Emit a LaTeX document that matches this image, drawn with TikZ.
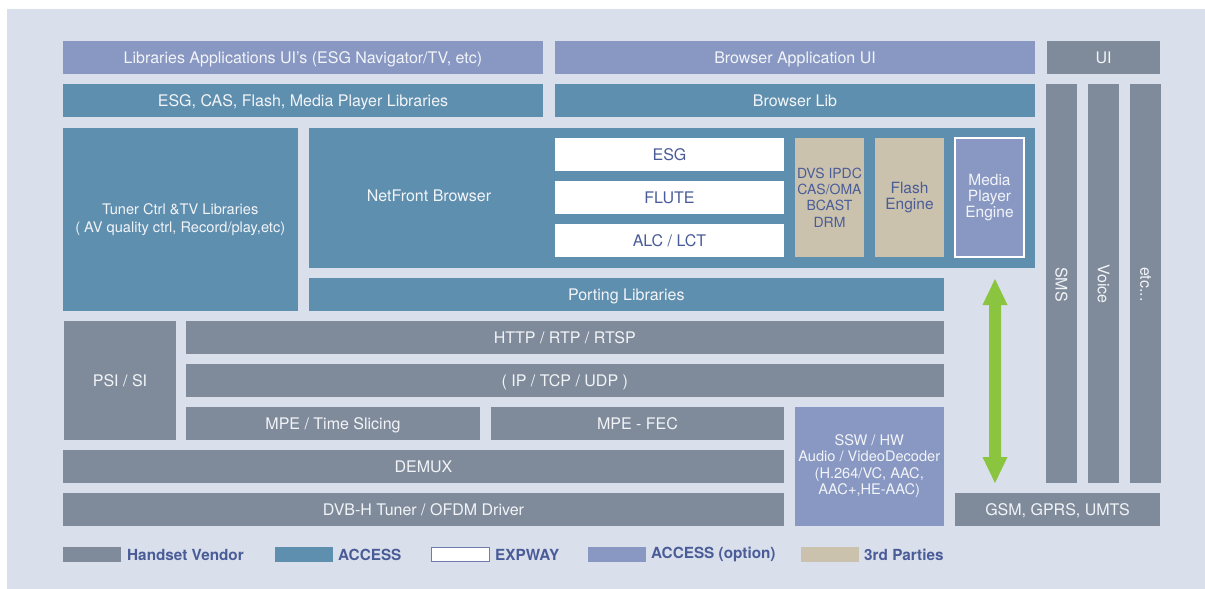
\documentclass[tikz,border=0pt]{standalone}
\usepackage{fontspec}
\setmainfont{TeX Gyre Heros}
\definecolor{bgc}{HTML}{D9DFEB}
\definecolor{hv}{HTML}{7F8B9A}
\definecolor{acc}{HTML}{5F8FAE}
\definecolor{opt}{HTML}{8898C3}
\definecolor{third}{HTML}{CBC2AE}
\definecolor{grn}{HTML}{8BC53F}
\definecolor{dtext}{HTML}{4A5C98}
\definecolor{ltext}{HTML}{F2F4F8}
\newcommand\mybox[7]{\node[#2, anchor=north west, minimum width={#5pt-#3pt}, minimum height={#6pt-#4pt}] (#1) at (#3,#4) {#7};}
\begin{document}
\begin{tikzpicture}[x=1pt,y=-1pt,
  base/.style={inner sep=0pt, outer sep=0pt, align=center, font=\fontsize{16}{16.5}\selectfont},
  sl/.style={text height=11.5pt, text depth=0pt},
  ml/.style={font=\fontsize{15.5}{16.3}\selectfont},
  hvbox/.style={base, fill=hv, text=ltext},
  accbox/.style={base, fill=acc, text=ltext},
  optbox/.style={base, fill=opt, text=ltext},
  expbox/.style={base, fill=white, text=dtext},
  thbox/.style={base, fill=third, text=dtext},
  vlab/.style={inner sep=0pt, rotate=-90, anchor=west, text=ltext, font=\fontsize{16}{16}\selectfont},
  legtext/.style={inner sep=0pt, anchor=west, text=dtext, font=\bfseries\fontsize{15.3}{16}\selectfont},
  swatch/.style={inner sep=0pt, outer sep=0pt, anchor=north west, minimum width=58pt, minimum height=14.5pt}]
\useasboundingbox (0,0) rectangle (1205,589);
\fill[bgc] (7,9) rectangle (1205,589);
% row 1
\mybox{libui}{optbox,sl}{63}{41}{543}{73.5}{Libraries Applications UI's (ESG Navigator/TV, etc)}
\mybox{brui}{optbox,sl}{555}{41}{1035}{73.5}{Browser Application UI}
\mybox{ui}{hvbox,sl}{1047}{41}{1160}{73.5}{UI}
% row 2
\mybox{esglib}{accbox,sl}{63}{84}{543}{116.5}{ESG, CAS, Flash, Media Player Libraries}
\mybox{brlib}{accbox,sl}{555}{84}{1035}{116.5}{Browser Lib}
% right columns
\mybox{sms}{hvbox}{1046}{84}{1077}{483}{}
\mybox{voice}{hvbox}{1088}{84}{1119}{483}{}
\mybox{etc}{hvbox}{1130}{84}{1161}{483}{}
\node[vlab] (smst) at (1061.5,267) {SMS};
\node[vlab] (voicet) at (1103.5,264.5) {Voice};
\node[vlab] (etct) at (1145.5,267) {etc...};
% row 3
\mybox{tuner}{accbox,font=\fontsize{14.6}{18}\selectfont}{63}{128}{297.5}{310.5}{Tuner Ctrl \&TV Libraries\\( AV quality ctrl, Record/play,etc)}
\mybox{netfront}{accbox}{309}{128}{1035}{267.5}{}
\node[base, sl, text=ltext] (nft) at (429,196) {NetFront Browser};
\mybox{esg}{expbox,sl}{555}{138}{784}{171}{ESG}
\mybox{flute}{expbox,sl}{555}{181}{784}{214}{FLUTE}
\mybox{alc}{expbox,sl}{555}{224}{784}{257}{ALC / LCT}
\mybox{dvs}{thbox,font=\fontsize{14}{16.3}\selectfont}{795}{138}{864}{257}{DVS IPDC\\CAS/OMA\\BCAST\\DRM}
\mybox{flash}{thbox,ml}{875}{138}{944}{257}{Flash\\Engine}
\mybox{media}{optbox,ml}{955}{138}{1024}{257}{Media\\Player\\Engine}
\draw[white, line width=1.2pt] (media.north west) rectangle (media.south east);
% porting
\mybox{porting}{accbox,sl}{309}{278}{943.5}{310.5}{Porting Libraries}
% network stack
\mybox{psi}{hvbox,sl}{64}{321}{176}{439.5}{PSI / SI}
\mybox{http}{hvbox,sl}{186}{321}{943.5}{353.5}{HTTP / RTP / RTSP}
\mybox{ip}{hvbox,sl}{186}{364}{943.5}{396.5}{( IP / TCP / UDP )}
\mybox{mpets}{hvbox,sl}{186}{407}{480}{439.5}{MPE / Time Slicing}
\mybox{mpefec}{hvbox,sl}{491}{407}{784}{439.5}{MPE - FEC}
\mybox{demux}{hvbox,sl}{63}{450}{784}{482.5}{DEMUX}
\mybox{dvbh}{hvbox,sl}{63}{493}{784}{525.5}{DVB-H Tuner / OFDM Driver}
\mybox{ssw}{optbox,font=\fontsize{14.6}{16.5}\selectfont}{795}{407}{943.5}{525.5}{SSW / HW\\Audio / VideoDecoder\\(H.264/VC, AAC,\\AAC+,HE-AAC)}
\mybox{gsm}{hvbox,sl}{955}{493}{1160}{525.5}{GSM, GPRS, UMTS}
% green arrow
\coordinate (atop) at (995,279);
\coordinate (abot) at (995,483);
\fill[grn] (atop) -- (1007.5,305) -- (1001,305) -- (1001,457) -- (1007.5,457) -- (abot) -- (982.5,457) -- (989,457) -- (989,305) -- (982.5,305) -- cycle;
% legend
\node[swatch, fill=hv] (l1) at (63,547) {};
\node[legtext] (l1t) at (127,554.5) {Handset Vendor};
\node[swatch, fill=acc] (l2) at (275,547) {};
\node[legtext] (l2t) at (338,554.5) {ACCESS};
\node[swatch, fill=white, draw=dtext!80, line width=0.8pt] (l3) at (431,547) {};
\node[legtext] (l3t) at (495,554.5) {EXPWAY};
\node[swatch, fill=opt] (l4) at (588,547) {};
\node[legtext] (l4t) at (651,554.5) {ACCESS (option)};
\node[swatch, fill=third] (l5) at (801,547) {};
\node[legtext] (l5t) at (864,554.5) {3rd Parties};
\end{tikzpicture}
\end{document}
